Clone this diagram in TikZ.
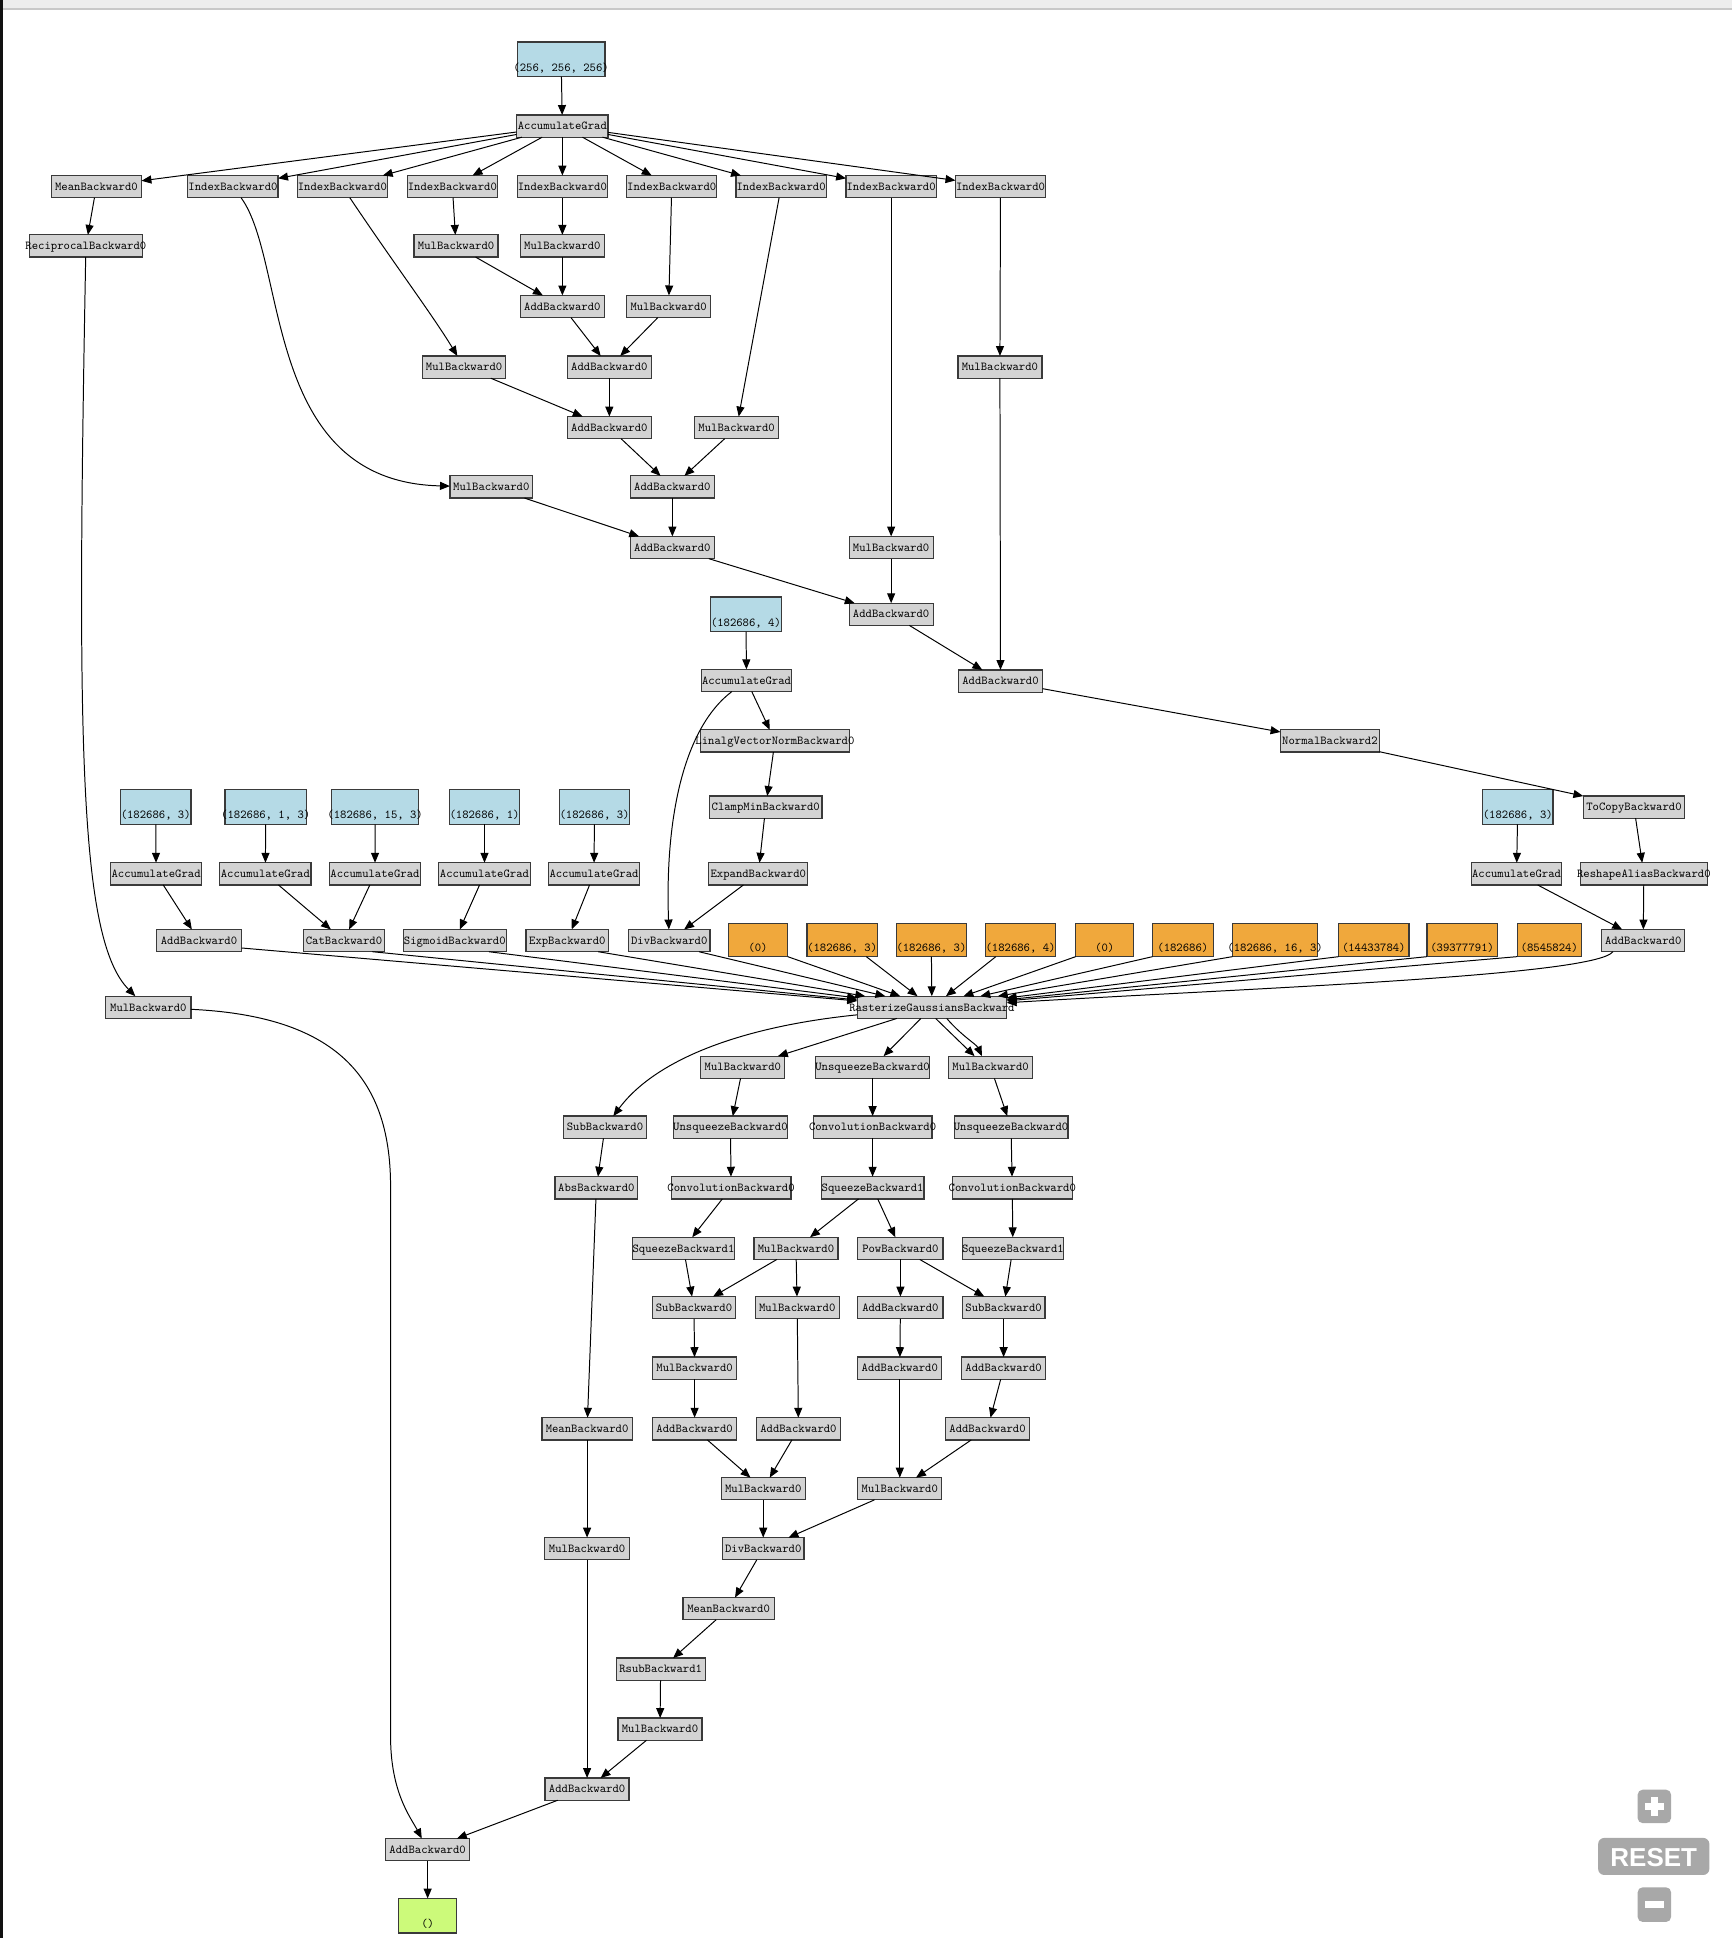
\documentclass[tikz,border=0pt]{standalone}
\usepackage{fontspec}
\newfontfamily\rsf{Liberation Sans}
\usetikzlibrary{arrows.meta}
\definecolor{gfill}{HTML}{D3D3D3}
\definecolor{bfill}{HTML}{B5DAE6}
\definecolor{ofill}{HTML}{F0A83C}
\definecolor{yfill}{HTML}{CCFA7A}
\definecolor{bord}{HTML}{3A3A3A}
\definecolor{btn}{HTML}{A8A8A8}
\definecolor{barA}{HTML}{EDEDED}
\definecolor{barB}{HTML}{C8C8C8}
\definecolor{edgeL}{HTML}{111111}
\newcommand\nf{\fontsize{9.8}{10}\selectfont\ttfamily}
\newcommand\lbg[1]{\makebox[0pt]{\raisebox{-3pt}[0pt][0pt]{#1}}}
\newcommand\lbc[1]{\makebox[0pt]{\raisebox{-9.5pt}[0pt][0pt]{#1}}}
\tikzset{
  nbox/.style={draw=bord, line width=1pt, inner sep=0pt, outer sep=0pt, font=\nf},
  gbox/.style={nbox, fill=gfill, minimum width=#1, minimum height=18pt},
  bbox/.style={nbox, fill=bfill, minimum width=#1, minimum height=28pt},
  obox/.style={nbox, fill=ofill, minimum width=#1, minimum height=27pt},
  ybox/.style={nbox, fill=yfill, minimum width=#1, minimum height=28pt},
  ed/.style={-{Triangle[length=8pt,width=6.5pt]}, line width=0.8pt, black},
}
\newcommand\gnode[5]{\node[gbox=#4] (#1) at (#2,#3) {\lbg{#5}};}
\newcommand\bnode[5]{\node[bbox=#4] (#1) at (#2,#3) {\lbc{#5}};}
\newcommand\onode[5]{\node[obox=#4] (#1) at (#2,#3) {\lbc{#5}};}
\begin{document}
\begin{tikzpicture}[x=1pt,y=-1pt]
\useasboundingbox (0,0) rectangle (1401,1568);
\fill[white] (0,0) rectangle (1401,1568);
\fill[barA] (0,0) rectangle (1401,6.5);
\fill[barB] (0,6.5) rectangle (1401,8);
\fill[edgeL] (0,0) rectangle (2.7,1568);
% buttons
\fill[btn, rounded corners=4pt] (1325,1448) rectangle (1352,1475);
\draw[white, line width=5.5pt] (1331,1461.5) -- (1346,1461.5) (1338.5,1454) -- (1338.5,1469);
\fill[btn, rounded corners=5pt] (1293,1487) rectangle (1383,1517);
\node[text=white, font={\rsf\bfseries\fontsize{21}{21}\selectfont}, inner sep=0pt] (reset) at (1338,1502.5) {RESET};
\fill[btn, rounded corners=4pt] (1325,1527) rectangle (1352,1555);
\draw[white, line width=5.5pt] (1331,1541) -- (1346,1541);

% ---------- nodes ----------
\bnode{b0}{454}{48}{71}{(256, 256, 256)}
\gnode{ag0}{455}{102}{74}{AccumulateGrad}
\gnode{mean0}{78}{151}{73}{MeanBackward0}
\gnode{idxA}{188.5}{151}{73}{IndexBackward0}
\gnode{idxB}{277}{151}{73}{IndexBackward0}
\gnode{idxC}{366}{151}{73}{IndexBackward0}
\gnode{idxD}{455}{151}{73}{IndexBackward0}
\gnode{idxE}{543.5}{151}{73}{IndexBackward0}
\gnode{idxF}{632}{151}{73}{IndexBackward0}
\gnode{idxG}{721}{151}{73}{IndexBackward0}
\gnode{idxH}{809.5}{151}{73}{IndexBackward0}
\gnode{recip}{69.5}{199}{91}{ReciprocalBackward0}
\gnode{mulA}{369}{199}{68}{MulBackward0}
\gnode{mulB}{455}{199}{68}{MulBackward0}
\gnode{addA}{455}{248}{68}{AddBackward0}
\gnode{mulC}{541}{248}{68}{MulBackward0}
\gnode{mulD}{375.5}{297}{67}{MulBackward0}
\gnode{addB}{493}{297}{68}{AddBackward0}
\gnode{mulE}{809}{297}{68}{MulBackward0}
\gnode{addC}{493}{346}{68}{AddBackward0}
\gnode{mulF}{596}{346}{68}{MulBackward0}
\gnode{mulG}{397.5}{394}{67}{MulBackward0}
\gnode{addD}{544}{394}{68}{AddBackward0}
\gnode{addE}{544}{443}{68}{AddBackward0}
\gnode{mulH}{721}{443}{68}{MulBackward0}
\gnode{addF}{721}{497}{68}{AddBackward0}
\bnode{b1}{603.5}{497}{57}{(182686, 4)}
\gnode{ag1}{604}{550.5}{73}{AccumulateGrad}
\gnode{addG}{809.5}{551}{68}{AddBackward0}
\gnode{linalg}{627}{599.5}{121}{LinalgVectorNormBackward0}
\gnode{normal}{1076}{599.5}{80}{NormalBackward2}
\bnode{bA}{126}{653}{57}{(182686, 3)}
\bnode{bB}{215}{653}{66}{(182686, 1, 3)}
\bnode{bC}{303.5}{653}{70}{(182686, 15, 3)}
\bnode{bD}{392}{653}{57}{(182686, 1)}
\bnode{bE}{481}{653}{57}{(182686, 3)}
\gnode{clamp}{619.5}{653}{91}{ClampMinBackward0}
\bnode{bF}{1228}{653}{57}{(182686, 3)}
\gnode{tocopy}{1322}{653}{82}{ToCopyBackward0}
\gnode{agA}{126.3}{707}{74}{AccumulateGrad}
\gnode{agB}{214.7}{707}{74}{AccumulateGrad}
\gnode{agC}{303.4}{707}{74}{AccumulateGrad}
\gnode{agD}{392}{707}{74}{AccumulateGrad}
\gnode{agE}{480.6}{707}{74}{AccumulateGrad}
\gnode{expand}{613.5}{707}{80}{ExpandBackward0}
\gnode{agF}{1227}{707}{73}{AccumulateGrad}
\gnode{reshape}{1330}{707}{103}{ReshapeAliasBackward0}
\gnode{addH}{161}{761}{69}{AddBackward0}
\gnode{cat}{278.3}{761}{66}{CatBackward0}
\gnode{sigm}{368}{761}{83}{SigmoidBackward0}
\gnode{expb}{459}{761}{67}{ExpBackward0}
\gnode{divA}{541.5}{761}{66}{DivBackward0}
\onode{oA}{613.3}{760.5}{48}{(0)}
\onode{oB}{681.4}{760.5}{57}{(182686, 3)}
\onode{oC}{753.6}{760.5}{57}{(182686, 3)}
\onode{oD}{825.7}{760.5}{57}{(182686, 4)}
\onode{oE}{893.8}{760.5}{47}{(0)}
\onode{oF}{957}{760.5}{49}{(182686)}
\onode{oG}{1031.7}{760.5}{69}{(182686, 16, 3)}
\onode{oH}{1111.5}{760.5}{57}{(14433784)}
\onode{oI}{1183}{760.5}{57}{(39377791)}
\onode{oJ}{1253.5}{760.5}{52}{(8545824)}
\gnode{addI}{1329.5}{761}{67}{AddBackward0}
\gnode{mulI}{120}{815}{69}{MulBackward0}
\gnode{raster}{754}{815}{121}{RasterizeGaussiansBackward}
\gnode{mulJ}{601}{863.5}{68}{MulBackward0}
\gnode{unsqA}{706}{863.5}{92}{UnsqueezeBackward0}
\gnode{mulK}{801.5}{863.5}{68}{MulBackward0}
\gnode{subA}{489.5}{912}{67}{SubBackward0}
\gnode{unsqB}{591}{912}{92}{UnsqueezeBackward0}
\gnode{convA}{706}{912}{96}{ConvolutionBackward0}
\gnode{unsqC}{818}{912}{92}{UnsqueezeBackward0}
\gnode{absb}{482.5}{961}{67}{AbsBackward0}
\gnode{convB}{591.5}{961}{97}{ConvolutionBackward0}
\gnode{sqA}{706}{961}{83}{SqueezeBackward1}
\gnode{convC}{819}{961}{97}{ConvolutionBackward0}
\gnode{sqB}{553}{1010}{82}{SqueezeBackward1}
\gnode{mulL}{644}{1010}{68}{MulBackward0}
\gnode{powb}{728.5}{1010}{69}{PowBackward0}
\gnode{sqC}{819.5}{1010}{82}{SqueezeBackward1}
\gnode{subB}{561.5}{1058}{67}{SubBackward0}
\gnode{mulM}{645}{1058}{68}{MulBackward0}
\gnode{addJ}{728.5}{1058}{69}{AddBackward0}
\gnode{subC}{812}{1058}{67}{SubBackward0}
\gnode{mulN}{562}{1107}{68}{MulBackward0}
\gnode{addK}{728}{1107}{68}{AddBackward0}
\gnode{addL}{812}{1107}{68}{AddBackward0}
\gnode{meanA}{475}{1156}{73}{MeanBackward0}
\gnode{addM}{562}{1156}{68}{AddBackward0}
\gnode{addN}{646}{1156}{68}{AddBackward0}
\gnode{addO}{799}{1156}{68}{AddBackward0}
\gnode{mulO}{617.5}{1204.5}{68}{MulBackward0}
\gnode{mulP}{728}{1204.5}{68}{MulBackward0}
\gnode{mulQ}{475}{1253}{69}{MulBackward0}
\gnode{divB}{617.5}{1253}{66}{DivBackward0}
\gnode{meanB}{589.5}{1301.5}{74}{MeanBackward0}
\gnode{rsub}{534.5}{1350.5}{72}{RsubBackward1}
\gnode{mulR}{534}{1399}{68}{MulBackward0}
\gnode{addP}{475}{1447.5}{68}{AddBackward0}
\gnode{addQ}{346}{1496.5}{68}{AddBackward0}
\node[ybox=47] (out) at (346,1550) {\lbc{()}};

% ---------- edges ----------
\draw[ed] (b0) -- (ag0);
\foreach \t in {mean0,idxA,idxB,idxC,idxD,idxE,idxF,idxG,idxH} \draw[ed] (ag0) -- (\t);
\draw[ed] (mean0) -- (recip);
\draw[ed] (recip) .. controls (62,600) and (64,760) .. ([xshift=24pt]mulI.north west);
\draw[ed] (idxA) .. controls (233,212) and (212,390) .. (mulG);
\draw[ed] (idxB) .. controls (320,215) and (350,255) .. (mulD);
\draw[ed] (idxC) -- (mulA);
\draw[ed] (idxD) -- (mulB);
\draw[ed] (idxE) -- (mulC);
\draw[ed] (idxF) -- (mulF);
\draw[ed] (idxG) -- (mulH);
\draw[ed] (idxH) -- (mulE);
\draw[ed] (mulA) -- (addA);
\draw[ed] (mulB) -- (addA);
\draw[ed] (addA) -- (addB);
\draw[ed] (mulC) -- (addB);
\draw[ed] (mulD) -- (addC);
\draw[ed] (addB) -- (addC);
\draw[ed] (addC) -- (addD);
\draw[ed] (mulF) -- (addD);
\draw[ed] (mulG) -- (addE);
\draw[ed] (addD) -- (addE);
\draw[ed] (addE) -- (addF);
\draw[ed] (mulH) -- (addF);
\draw[ed] (addF) -- (addG);
\draw[ed] (mulE) -- (addG);
\draw[ed] (addG) -- (normal);
\draw[ed] (normal) -- (tocopy);
\draw[ed] (tocopy) -- (reshape);
\draw[ed] (reshape) -- (addI);
\draw[ed] (b1) -- (ag1);
\draw[ed] (ag1) -- (linalg);
\draw[ed] (ag1) .. controls (552,590) and (538,665) .. (divA);
\draw[ed] (linalg) -- (clamp);
\draw[ed] (clamp) -- (expand);
\draw[ed] (expand) -- (divA);
\draw[ed] (bA) -- (agA);
\draw[ed] (bB) -- (agB);
\draw[ed] (bC) -- (agC);
\draw[ed] (bD) -- (agD);
\draw[ed] (bE) -- (agE);
\draw[ed] (bF) -- (agF);
\draw[ed] (agA) -- (addH);
\draw[ed] (agB) -- (cat);
\draw[ed] (agC) -- (cat);
\draw[ed] (agD) -- (sigm);
\draw[ed] (agE) -- (expb);
\draw[ed] (agF) -- (addI);
% inputs of RasterizeGaussiansBackward
\draw[ed] ([yshift=3pt]addH.south east) -- (raster);
\draw[ed] ([xshift=-10pt]cat.south east) -- (raster);
\draw[ed] ([xshift=-14pt]sigm.south east) -- (raster);
\draw[ed] ([xshift=-8.5pt]expb.south east) -- (raster);
\draw[ed] ([xshift=-9pt]divA.south east) -- (raster);
\draw[ed] (oA.south east) -- (raster);
\draw[ed] ([xshift=-9pt]oB.south east) -- (raster);
\draw[ed] (oC.south) -- (raster);
\draw[ed] ([xshift=-20pt]oD.south) -- (raster);
\draw[ed] (oE.south west) -- (raster);
\draw[ed] (oF.south west) -- (raster);
\draw[ed] (oG.south west) -- (raster);
\draw[ed] (oH.south west) -- (raster);
\draw[ed] (oI.south west) -- (raster);
\draw[ed] (oJ.south west) -- (raster);
\draw[ed] ([xshift=9pt]addI.south west) .. controls (1290,790) and (1000,800) .. (raster);
\draw[ed] (mulI) .. controls (270,822) and (316,870) .. (316,960) -- (316,1405) .. controls (316,1450) and (332,1470) .. (addQ);
\draw[ed] (raster) .. controls (605,830) and (532,855) .. (subA);
\draw[ed] (raster) -- (mulJ);
\draw[ed] (raster) -- (unsqA);
\draw[ed] ([xshift=3pt]raster.south) -- ([xshift=-13pt]mulK.north);
\draw[ed] ([xshift=12pt]raster.south) .. controls (778,838) and (790,845) .. ([xshift=-7pt]mulK.north);
\draw[ed] (mulJ) -- (unsqB);
\draw[ed] (unsqB) -- (convB);
\draw[ed] (convB) -- (sqB);
\draw[ed] (sqB) -- (subB);
\draw[ed] (unsqA) -- (convA);
\draw[ed] (convA) -- (sqA);
\draw[ed] (sqA) -- (mulL);
\draw[ed] (sqA) -- (powb);
\draw[ed] (mulL) -- (subB);
\draw[ed] (mulL) -- (mulM);
\draw[ed] (powb) -- (addJ);
\draw[ed] (powb) -- (subC);
\draw[ed] (mulK) -- (unsqC);
\draw[ed] (unsqC) -- (convC);
\draw[ed] (convC) -- (sqC);
\draw[ed] (sqC) -- (subC);
\draw[ed] (subB) -- (mulN);
\draw[ed] (mulN) -- (addM);
\draw[ed] (mulM) -- (addN);
\draw[ed] (addJ) -- (addK);
\draw[ed] (addK) -- (mulP);
\draw[ed] (subC) -- (addL);
\draw[ed] (addL) -- (addO);
\draw[ed] (addO) -- (mulP);
\draw[ed] (addM) -- (mulO);
\draw[ed] (addN) -- (mulO);
\draw[ed] (mulO) -- (divB);
\draw[ed] (mulP) -- (divB);
\draw[ed] (divB) -- (meanB);
\draw[ed] (meanB) -- (rsub);
\draw[ed] (rsub) -- (mulR);
\draw[ed] (mulR) -- (addP);
\draw[ed] (subA) -- (absb);
\draw[ed] (absb) -- (meanA);
\draw[ed] (meanA) -- (mulQ);
\draw[ed] (mulQ) -- (addP);
\draw[ed] (addP) -- (addQ);
\draw[ed] (addQ) -- (out);
\end{tikzpicture}
\end{document}
